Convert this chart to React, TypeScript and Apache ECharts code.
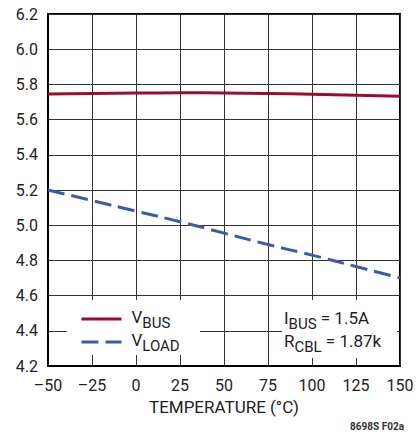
import React, { useEffect, useRef } from "react";
import * as echarts from "echarts";

const temps = [-50, -25, 0, 25, 50, 75, 100, 125, 150];
const vbus = [5.745, 5.749, 5.751, 5.752, 5.751, 5.748, 5.744, 5.739, 5.733];
const vload = [5.2, 5.14, 5.08, 5.02, 4.955, 4.89, 4.83, 4.765, 4.7];
const seriesNames = ["VBUS", "VLOAD"];
const xTitle = "TEMPERATURE (°C)";
const figId = "8698S F02a";

const FONT = "Roboto, 'Liberation Sans', sans-serif";

export default function App() {
  const ref = useRef<HTMLDivElement>(null);
  useEffect(() => {
    if (!ref.current) return;
    const chart = echarts.init(ref.current, null, { renderer: "svg" });
    const rich = {
      v: { fontSize: 17, fontFamily: FONT, color: "#222", verticalAlign: "bottom", padding: [0, 0, 5, 0] },
      s: { fontSize: 15, fontFamily: FONT, color: "#222", verticalAlign: "bottom" },
    };
    chart.setOption({
      animation: false,
      backgroundColor: "#fff",
      grid: { left: 48, right: 18, top: 14, bottom: 69, show: true, borderColor: "#000", borderWidth: 2, backgroundColor: "transparent" },
      xAxis: {
        type: "value",
        min: -50,
        max: 150,
        interval: 25,
        axisLine: { onZero: false, lineStyle: { color: "#000", width: 2 } },
        axisTick: { show: false },
        splitLine: { lineStyle: { color: "#333", width: 1 } },
        axisLabel: {
          fontFamily: FONT,
          fontSize: 16,
          color: "#222",
          margin: 11,
          formatter: (v: number) => (v < 0 ? "\u2013" + Math.abs(v) : String(v)),
        },
        name: xTitle,
        nameLocation: "middle",
        nameGap: 32,
        nameTextStyle: { fontFamily: FONT, fontSize: 17, color: "#222" },
      },
      yAxis: {
        type: "value",
        min: 4.2,
        max: 6.2,
        interval: 0.2,
        axisLine: { show: true, onZero: false, lineStyle: { color: "#000", width: 2 } },
        axisTick: { show: false },
        splitLine: { lineStyle: { color: "#333", width: 1 } },
        axisLabel: {
          fontFamily: FONT,
          fontSize: 16,
          color: "#222",
          margin: 10,
          formatter: (v: number) => v.toFixed(1),
        },
      },
      legend: {
        left: 75,
        top: 303,
        orient: "vertical",
        itemWidth: 40,
        itemHeight: 14,
        itemGap: 1,
        data: seriesNames,
        itemStyle: { opacity: 0 },
        lineStyle: { width: 3 },
        formatter: (n: string) => "{v|V}{s|" + n.slice(1) + "}",
        textStyle: { rich, padding: [0, 0, 0, 5] },
      },
      graphic: [
        { type: "rect", z: 1, shape: { x: 67, y: 300, width: 133, height: 55 }, style: { fill: "#fff" } },
        { type: "rect", z: 1, shape: { x: 282, y: 300, width: 115, height: 58 }, style: { fill: "#fff" } },
        {
          type: "text",
          z: 5,
          x: 284,
          y: 309,
          style: { text: "{v|I}{s|BUS}{v| = 1.5A}", rich, fill: "#222" },
        },
        {
          type: "text",
          z: 5,
          x: 284,
          y: 332,
          style: { text: "{v|R}{s|CBL}{v| = 1.87k}", rich, fill: "#222" },
        },
        {
          type: "text",
          z: 5,
          right: 14,
          top: 421,
          style: { text: figId, fontFamily: FONT, fontSize: 10, fontWeight: "bold", fill: "#333" },
        },
      ],
      series: [
        {
          name: seriesNames[0],
          type: "line",
          data: temps.map((t, i) => [t, vbus[i]]),
          smooth: true,
          symbol: "none",
          lineStyle: { color: "#9c0b32", width: 3 },
          itemStyle: { color: "#9c0b32" },
          z: 3,
        },
        {
          name: seriesNames[1],
          type: "line",
          data: temps.map((t, i) => [t, vload[i]]),
          smooth: true,
          symbol: "none",
          lineStyle: { color: "#3b5aa8", width: 3, type: [17, 7] },
          itemStyle: { color: "#3b5aa8" },
          z: 3,
        },
      ],
    });
    return () => chart.dispose();
  }, []);
  return <div ref={ref} style={{ width: 418, height: 435, position: "absolute", left: 0, top: 0 }} />;
}
